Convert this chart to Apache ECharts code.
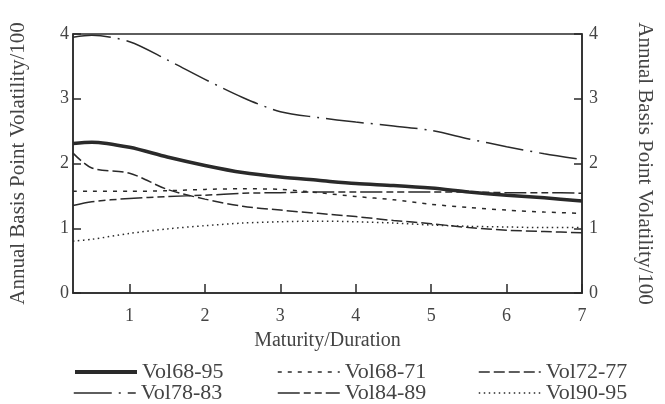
<!DOCTYPE html>
<html lang="en">
  <head>
    <meta charset="UTF-8" />
    <title>Volatility</title>
    <script src="https://cdn.jsdelivr.net/npm/echarts@6/dist/echarts.min.js"></script>
  </head>
  <body style="margin:0">
    <div id="main" style="width: 665px; height: 404px"></div>
  </body>
  <script type="text/javascript">
    // maturity points
    const maturity = [0.25, 0.5, 1, 1.5, 2, 2.5, 3, 3.5, 4, 4.5, 5, 5.5, 6, 6.5, 7];
    const vol6895 = [2.31, 2.33, 2.25, 2.1, 1.97, 1.86, 1.79, 1.74, 1.69, 1.66, 1.62, 1.56, 1.51, 1.47, 1.42];
    const vol6871 = [1.57, 1.57, 1.57, 1.58, 1.6, 1.61, 1.6, 1.55, 1.49, 1.44, 1.37, 1.32, 1.28, 1.25, 1.23];
    const vol7277 = [2.16, 1.93, 1.85, 1.6, 1.45, 1.34, 1.28, 1.23, 1.18, 1.12, 1.07, 1.01, 0.97, 0.95, 0.93];
    const vol7883 = [3.95, 3.98, 3.88, 3.6, 3.3, 3.02, 2.8, 2.71, 2.64, 2.58, 2.51, 2.38, 2.26, 2.15, 2.06];
    const vol8489 = [1.35, 1.41, 1.46, 1.49, 1.51, 1.54, 1.55, 1.56, 1.56, 1.56, 1.56, 1.56, 1.55, 1.55, 1.54];
    const vol9095 = [0.8, 0.83, 0.92, 0.99, 1.04, 1.08, 1.1, 1.11, 1.1, 1.08, 1.05, 1.03, 1.02, 1.01, 1.01];
    const yTicks = [0, 1, 2, 3, 4];
    const xTicks = [1, 2, 3, 4, 5, 6, 7];

    const font = "'Liberation Serif', 'DejaVu Serif', serif";
    const ink = "#2a2a2a";

    function pairs(vals) {
      return vals.map((v, i) => [maturity[i], v]);
    }
    function line(name, vals, width, dash) {
      return {
        name: name,
        type: "line",
        data: pairs(vals),
        smooth: 0.3,
        symbol: "none",
        lineStyle: { color: ink, width: width, type: dash },
        itemStyle: { color: ink },
      };
    }

    const yAxisBase = {
      type: "value",
      min: 0,
      max: 4,
      interval: 1,
      splitLine: { show: false },
      axisLine: { show: true, lineStyle: { color: ink, width: 1.5 } },
      axisTick: { show: true, inside: true, length: 8, lineStyle: { color: ink, width: 1.5 } },
      nameLocation: "middle",
      nameTextStyle: { fontFamily: font, fontSize: 21, color: "#444" },
    };

    // one legend per entry so the three columns line up
    function legendItem(left, top, name, width) {
      return {
        data: [name],
        left: left,
        top: top,
        itemWidth: 62,
        itemHeight: 14,
        padding: 0,
        itemStyle: { opacity: 0 },
        lineStyle: { width: width },
        textStyle: { fontFamily: font, fontSize: 22, color: "#444" },
      };
    }

    var chartDom = document.getElementById("main");
    var myChart = echarts.init(chartDom);
    var option;

    option = {
      animation: false,
      backgroundColor: "#fff",
      grid: {
        left: 73,
        right: 83,
        top: 34,
        bottom: 111,
        show: true,
        borderColor: ink,
        borderWidth: 1.5,
      },
      legend: [
        legendItem(73, 361, "Vol68-95", 4),
        legendItem(277, 361, "Vol68-71", 1.5),
        legendItem(478, 361, "Vol72-77", 1.5),
        legendItem(73, 382, "Vol78-83", 1.5),
        legendItem(277, 382, "Vol84-89", 1.5),
        legendItem(478, 382, "Vol90-95", 1.5),
      ],
      xAxis: {
        type: "value",
        min: 0.25,
        max: 7,
        interval: 1,
        name: "Maturity/Duration",
        nameLocation: "middle",
        nameGap: 38,
        nameTextStyle: { fontFamily: font, fontSize: 20, color: "#444" },
        splitLine: { show: false },
        axisLine: { lineStyle: { color: ink, width: 1.5 } },
        axisTick: { inside: true, length: 9, lineStyle: { color: ink, width: 1.5 }, customValues: xTicks },
        axisLabel: { fontFamily: font, fontSize: 18, color: "#444", margin: 14, customValues: xTicks },
      },
      yAxis: [
        Object.assign({}, yAxisBase, {
          position: "left",
          name: "Annual Basis Point Volatility/100",
          nameGap: 44,
          axisLabel: { fontFamily: font, fontSize: 18, color: "#444", margin: 4, customValues: yTicks },
        }),
        Object.assign({}, yAxisBase, {
          position: "right",
          name: "Annual Basis Point Volatility/100",
          nameGap: 52,
          nameRotate: -90,
          axisLabel: { fontFamily: font, fontSize: 18, color: "#444", margin: 7, customValues: yTicks },
        }),
      ],
      series: [
        line("Vol68-95", vol6895, 3.5, "solid"),
        line("Vol68-71", vol6871, 1.5, [4, 6]),
        line("Vol72-77", vol7277, 1.5, [11, 4]),
        line("Vol78-83", vol7883, 1.5, [38, 7, 2, 7]),
        line("Vol84-89", vol8489, 1.5, [22, 4, 7, 4, 7, 4]),
        line("Vol90-95", vol9095, 1.5, [1.5, 3.5]),
      ],
    };

    option && myChart.setOption(option);
  </script>
</html>
